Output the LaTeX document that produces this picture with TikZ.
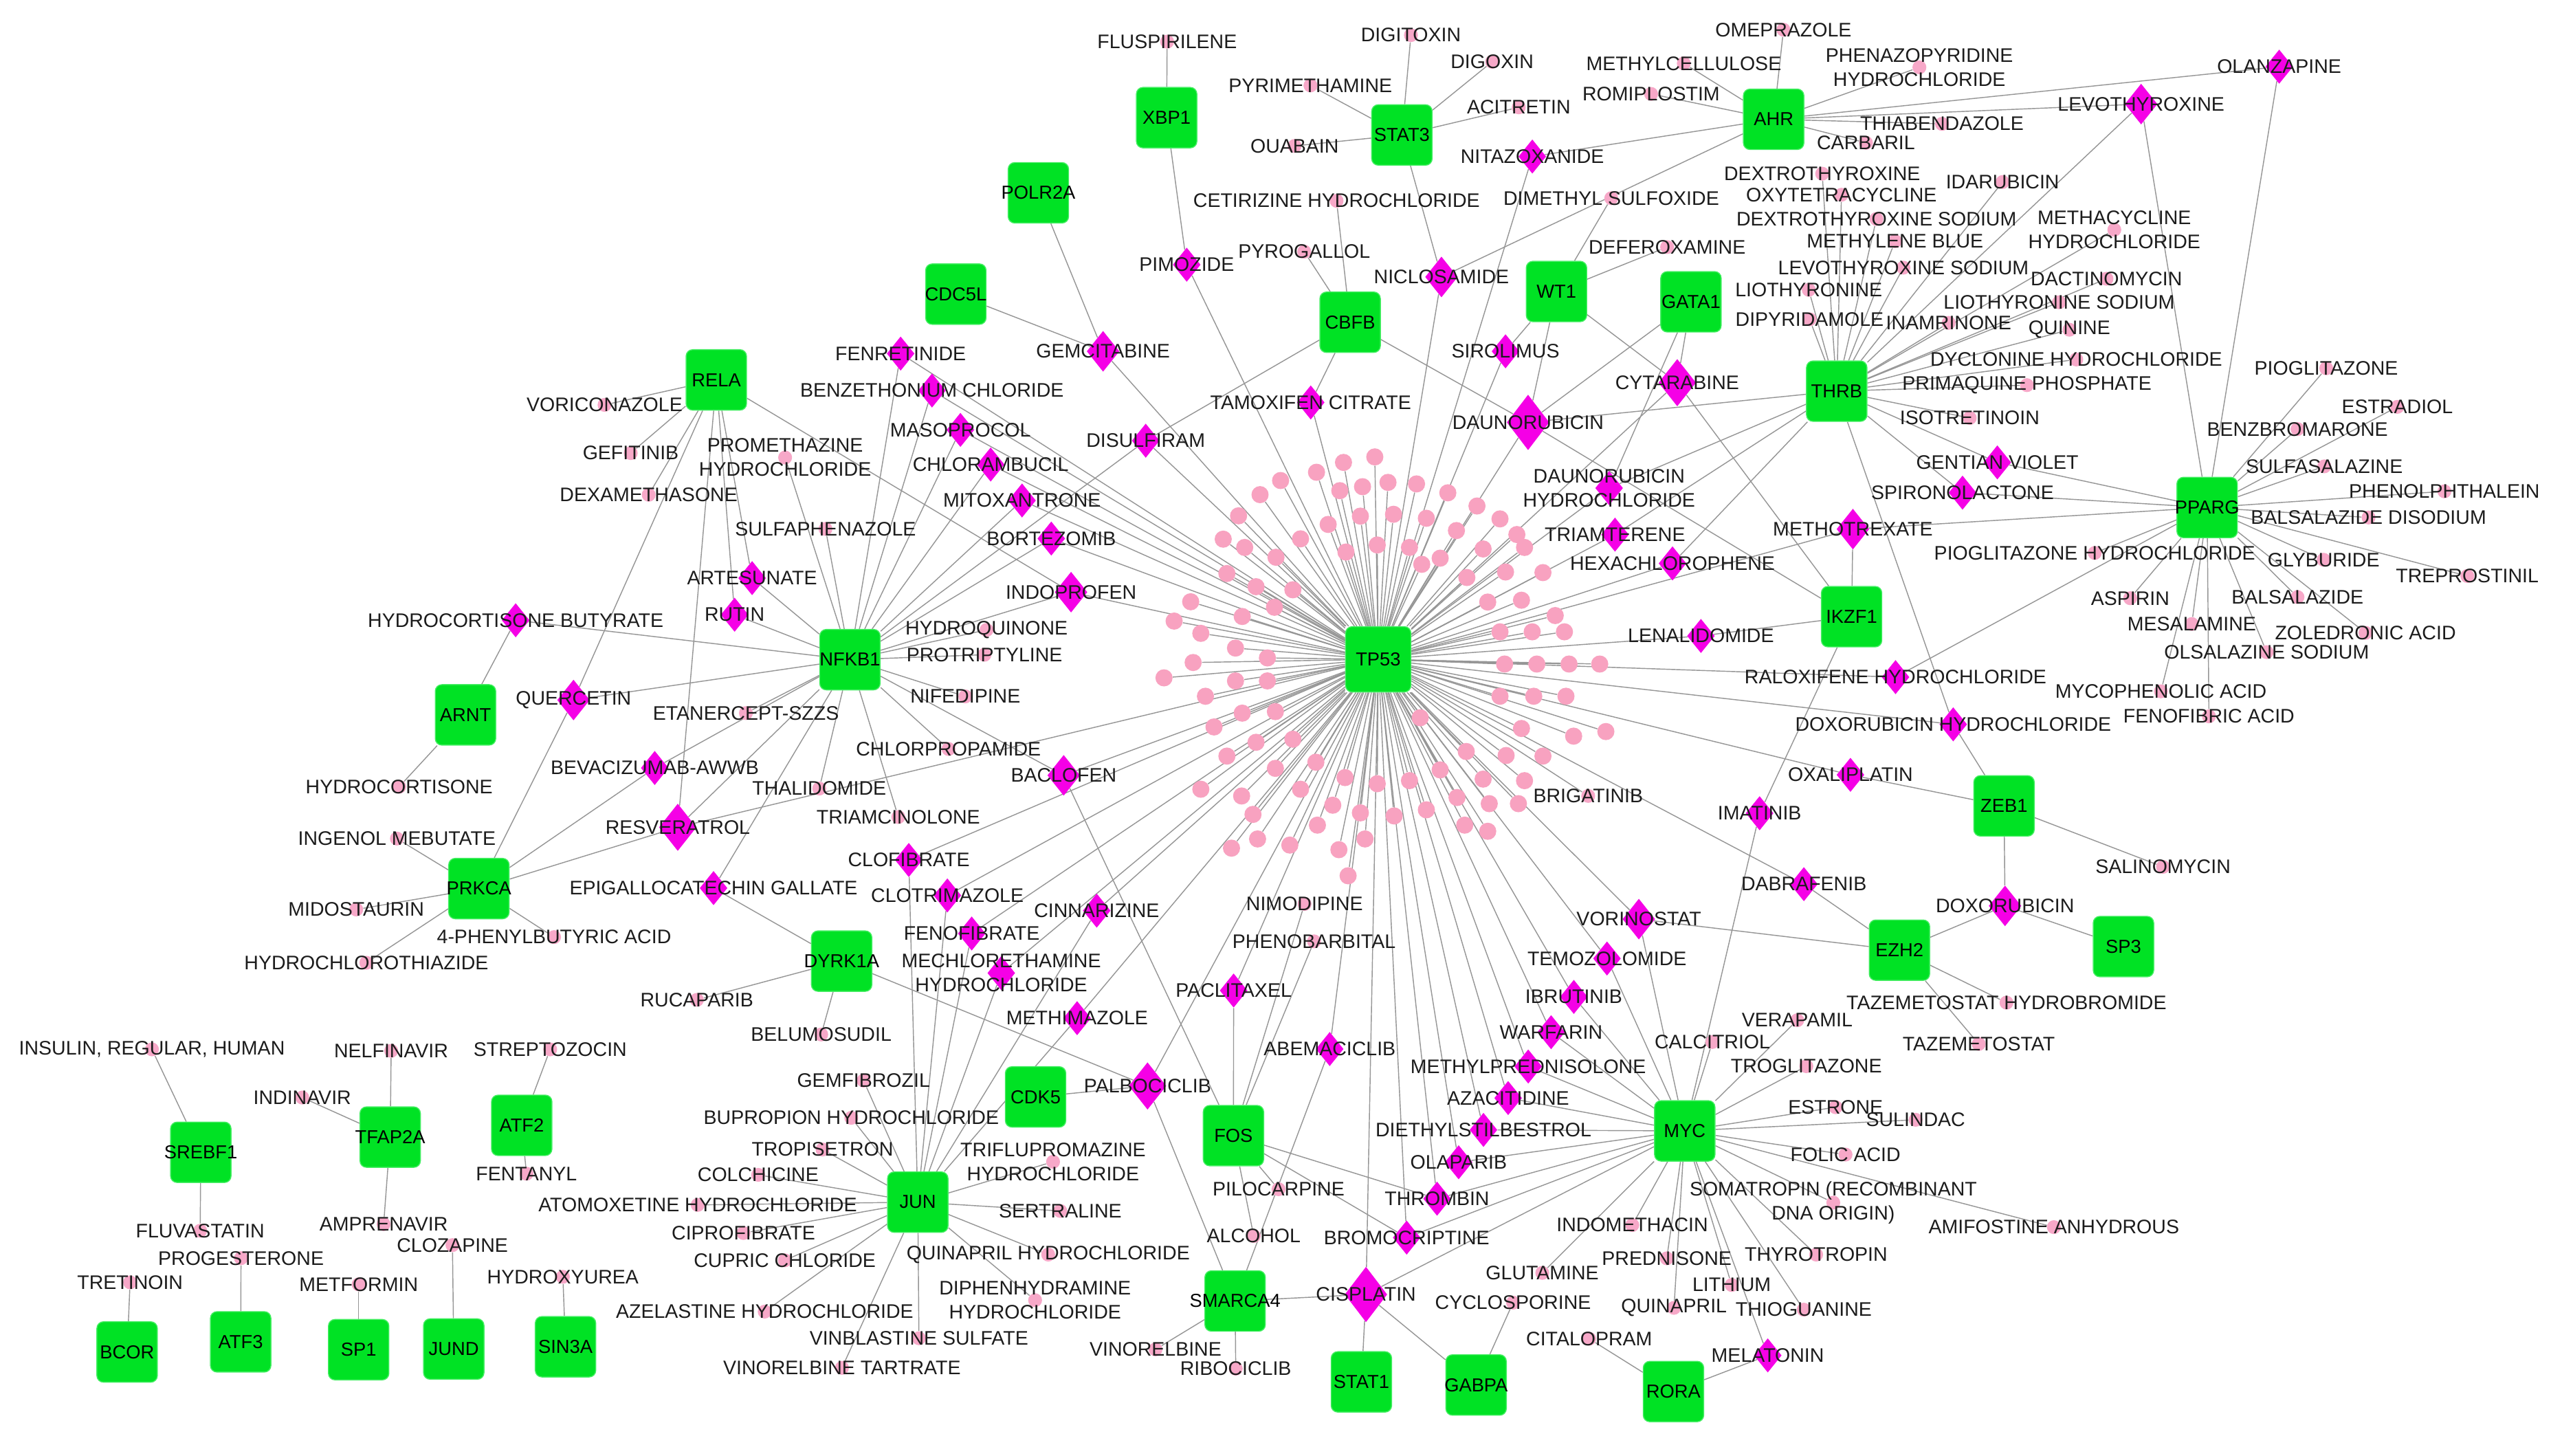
\documentclass[tikz,border=0pt]{standalone}
\usepackage{fontspec}
\setmainfont{Liberation Sans}
\usetikzlibrary{shapes.geometric}
\pgfdeclarelayer{bg}\pgfdeclarelayer{fg}\pgfsetlayers{bg,main,fg}
\definecolor{gfill}{RGB}{0,226,36}
\definecolor{gdraw}{RGB}{70,238,100}
\definecolor{dmag}{RGB}{245,0,230}
\definecolor{cpink}{RGB}{248,162,192}
\definecolor{mpink}{RGB}{247,168,200}
\definecolor{edgec}{RGB}{150,150,150}
\definecolor{txt}{RGB}{28,28,28}
\tikzset{
 gene/.style={draw=gdraw, line width=0.6pt, fill=gfill, rounded corners=4pt, minimum width=37pt, minimum height=37pt, inner sep=0pt},
 genelab/.style={font=\fontsize{11.5}{12}\selectfont, text=black, inner sep=0pt},
 tpc/.style={circle, fill=cpink, minimum size=10.5pt, inner sep=0pt},
 mk/.style={circle, fill=mpink, minimum size=8.5pt, inner sep=0pt},
 dias/.style={diamond, fill=dmag, minimum width=17pt, minimum height=21pt, inner sep=0pt},
 diam/.style={diamond, fill=dmag, minimum width=20pt, minimum height=25pt, inner sep=0pt},
 diaml/.style={diamond, fill=dmag, minimum width=23pt, minimum height=29pt, inner sep=0pt},
 dial/.style={diamond, fill=dmag, minimum width=26pt, minimum height=34pt, inner sep=0pt},
 lab/.style={font=\fontsize{12}{14.8}\selectfont, text=txt, align=center, inner sep=0pt},
 edge/.style={draw=edgec, line width=0.6pt},
}
\newcommand{\gnode}[3]{\node[gene] (#1) at (#2) {};\begin{pgfonlayer}{fg}\node[genelab] at (#1) {#3};\end{pgfonlayer}}
\newcommand{\mnode}[3]{\node[mk] (#1) at (#2) {};\begin{pgfonlayer}{fg}\node[lab] at (#1) {#3};\end{pgfonlayer}}
\newcommand{\dnode}[4]{\node[#1] (#2) at (#3) {};\begin{pgfonlayer}{fg}\node[lab] at (#2) {#4};\end{pgfonlayer}}
\begin{document}
\begin{tikzpicture}[x=1pt,y=-1pt]
\useasboundingbox (0,0) rectangle (1568,891);

% ---- TP53 satellite circles
\foreach \zx/\zy [count=\i] in {672/145,570/163,482/195,365/222,298/268,228/337,178/413,248/440,190/525,72/617,18/680,105/720,218/768,80/815,120/925,218/875,322/800,322/875,240/980,348/975,148/1025,285/1075,405/1065,190/1120,348/1160,480/1140,105/1228,238/1250,430/1228,275/1310,575/1190,680/1210,290/1390,395/1410,205/1420,535/1280,625/1305,485/1345,555/1425,640/1390,585/1510,735/1315,785/1200,840/1295,820/995,885/1165,970/1105,940/1255,1025/1195,1045/1275,965/1345,1040/1365,1100/1118,1160/1200,1140/1275,1220/1120,1320/1055,1425/1040,1150/1030,1080/925,1190/925,1295/925,1095/820,1200/820,1305/820,1405/820,1080/715,1185/715,1290/715,1260/662,1040/618,1150/612,972/538,1098/520,1220/522,1025/445,1160/440,1135/398,938/385,885/475,825/495,785/440,680/432,578/455,430/412,350/472,520/365,625/338,733/332,840/345,1005/305,1080/347,910/262,808/233,715/228,632/242,558/255,405/578,345/635,285/568,240/665,-15/865}
  {\node[tpc] (c\i) at ({715.2+\zx/5.325},{252.4+\zy/5.325}) {};}

% ---- single-target drugs
\mnode{fluspi}{714.3,25.5}{FLUSPIRILENE}
\mnode{digitox}{863.5,21.5}{DIGITOXIN}
\mnode{digox}{913.2,37.8}{DIGOXIN}
\mnode{pyrim}{802,52.3}{PYRIMETHAMINE}
\mnode{acitr}{929.5,65.7}{ACITRETIN}
\mnode{ouab}{792.3,89.3}{OUABAIN}
\mnode{cetir}{818,122.9}{CETIRIZINE HYDROCHLORIDE}
\mnode{dmso}{986.1,121.3}{DIMETHYL SULFOXIDE}
\mnode{pyrog}{798.2,154}{PYROGALLOL}
\mnode{defer}{1020.3,151.2}{DEFEROXAMINE}
\mnode{methylc}{1030.5,38.8}{METHYLCELLULOSE}
\mnode{romip}{1010.5,57.5}{ROMIPLOSTIM}
\mnode{omep}{1091.5,18.2}{OMEPRAZOLE}
\mnode{phenaz}{1174.7,41.2}{PHENAZOPYRIDINE\\HYDROCHLORIDE}
\mnode{thiab}{1188.5,75.8}{THIABENDAZOLE}
\mnode{carb}{1142,87.4}{CARBARIL}
\mnode{dextro}{1115.2,106.3}{DEXTROTHYROXINE}
\mnode{oxyt}{1127,119.2}{OXYTETRACYCLINE}
\mnode{idaru}{1225.6,111.4}{IDARUBICIN}
\mnode{dextros}{1148.4,134}{DEXTROTHYROXINE SODIUM}
\mnode{mblue}{1159.8,147.6}{METHYLENE BLUE}
\mnode{methac}{1294,140.6}{METHACYCLINE\\HYDROCHLORIDE}
\mnode{levos}{1164.9,163.8}{LEVOTHYROXINE SODIUM}
\mnode{dactino}{1289.2,170.6}{DACTINOMYCIN}
\mnode{lio}{1107,177.4}{LIOTHYRONINE}
\mnode{lios}{1260.2,185}{LIOTHYRONINE SODIUM}
\mnode{dipyr}{1107.5,195.4}{DIPYRIDAMOLE}
\mnode{inam}{1192.6,197.6}{INAMRINONE}
\mnode{quin}{1266.5,201.8}{QUININE}
\mnode{dyclo}{1270.7,220}{DYCLONINE HYDROCHLORIDE}
\mnode{prima}{1240.5,235.7}{PRIMAQUINE PHOSPHATE}
\mnode{isotr}{1205.5,255.8}{ISOTRETINOIN}
\mnode{piog}{1423.7,225.4}{PIOGLITAZONE}
\mnode{estra}{1467.2,249}{ESTRADIOL}
\mnode{benzb}{1406.1,262.6}{BENZBROMARONE}
\mnode{sulfas}{1422.5,285.4}{SULFASALAZINE}
\mnode{phenol}{1496,300.7}{PHENOLPHTHALEIN}
\mnode{balsd}{1449.6,316.7}{BALSALAZIDE DISODIUM}
\mnode{piohcl}{1282,338.4}{PIOGLITAZONE HYDROCHLORIDE}
\mnode{glyb}{1422.1,342.6}{GLYBURIDE}
\mnode{trepro}{1510,352.5}{TREPROSTINIL}
\mnode{aspir}{1303.7,366.1}{ASPIRIN}
\mnode{balsa}{1406.1,365.4}{BALSALAZIDE}
\mnode{mesal}{1341.4,381.9}{MESALAMINE}
\mnode{zoled}{1447.7,387.3}{ZOLEDRONIC ACID}
\mnode{olsal}{1387.2,399.1}{OLSALAZINE SODIUM}
\mnode{mycop}{1322.5,423.1}{MYCOPHENOLIC ACID}
\mnode{fenofa}{1351.9,438.4}{FENOFIBRIC ACID}
\mnode{salino}{1323.8,530.5}{SALINOMYCIN}
\mnode{tazhbr}{1228,613.6}{TAZEMETOSTAT HYDROBROMIDE}
\mnode{taz}{1211,638.9}{TAZEMETOSTAT}
\mnode{brig}{972,487.1}{BRIGATINIB}
\mnode{verap}{1099.9,624.4}{VERAPAMIL}
\mnode{calci}{1048,637.7}{CALCITRIOL}
\mnode{trogl}{1105.5,652.5}{TROGLITAZONE}
\mnode{estro}{1123.4,677.6}{ESTRONE}
\mnode{sulin}{1172.4,685.3}{SULINDAC}
\mnode{folic}{1129.5,706.6}{FOLIC ACID}
\mnode{somat}{1122,736}{SOMATROPIN (RECOMBINANT\\DNA ORIGIN)}
\mnode{amifo}{1257,751}{AMIFOSTINE ANHYDROUS}
\mnode{indom}{999,749.7}{INDOMETHACIN}
\mnode{thyro}{1111.5,767.8}{THYROTROPIN}
\mnode{predn}{1020.1,770.1}{PREDNISONE}
\mnode{gluta}{943.9,779}{GLUTAMINE}
\mnode{lith}{1059.8,786.4}{LITHIUM}
\mnode{quinap}{1024.5,800.4}{QUINAPRIL}
\mnode{thiog}{1103.9,801.5}{THIOGUANINE}
\mnode{cyclo}{926,797.2}{CYCLOSPORINE}
\mnode{cital}{972.6,819.3}{CITALOPRAM}
\mnode{nimod}{798.4,553.2}{NIMODIPINE}
\mnode{pheno}{804.2,576.1}{PHENOBARBITAL}
\mnode{piloc}{782.5,727.8}{PILOCARPINE}
\mnode{alcoh}{767.3,756.4}{ALCOHOL}
\mnode{vinor}{707.2,825.8}{VINORELBINE}
\mnode{riboc}{756.3,837.6}{RIBOCICLIB}
\mnode{gemfi}{528.5,661.3}{GEMFIBROZIL}
\mnode{bupro}{521,684.1}{BUPROPION HYDROCHLORIDE}
\mnode{tropi}{503.4,703.5}{TROPISETRON}
\mnode{colch}{464,719}{COLCHICINE}
\mnode{atomo}{427,737.4}{ATOMOXETINE HYDROCHLORIDE}
\mnode{cipro}{455,754.6}{CIPROFIBRATE}
\mnode{cupric}{480.3,771.3}{CUPRIC CHLORIDE}
\mnode{azel}{468,802.7}{AZELASTINE HYDROCHLORIDE}
\mnode{vinbl}{562.4,819}{VINBLASTINE SULFATE}
\mnode{vinort}{515.3,837.1}{VINORELBINE TARTRATE}
\mnode{triflu}{644.5,711}{TRIFLUPROMAZINE\\HYDROCHLORIDE}
\mnode{sertr}{648.9,741.1}{SERTRALINE}
\mnode{quinhcl}{641.5,767.8}{QUINAPRIL HYDROCHLORIDE}
\mnode{diphen}{633.5,795.7}{DIPHENHYDRAMINE\\HYDROCHLORIDE}
\mnode{belum}{502.6,633.1}{BELUMOSUDIL}
\mnode{rucap}{426.5,611.9}{RUCAPARIB}
\mnode{hydroc}{244.3,481.5}{HYDROCORTISONE}
\mnode{ingen}{242.9,513.2}{INGENOL MEBUTATE}
\mnode{midos}{218,556.6}{MIDOSTAURIN}
\mnode{pba}{339.1,573.5}{4-PHENYLBUTYRIC ACID}
\mnode{hctz}{224.2,589.2}{HYDROCHLOROTHIAZIDE}
\mnode{etan}{456.5,436.4}{ETANERCEPT-SZZS}
\mnode{thal}{501.4,482.6}{THALIDOMIDE}
\mnode{triamc}{549.8,500}{TRIAMCINOLONE}
\mnode{chlorp}{580.5,458.4}{CHLORPROPAMIDE}
\mnode{nifed}{590.8,426.2}{NIFEDIPINE}
\mnode{hquin}{603.8,385.5}{HYDROQUINONE}
\mnode{protr}{602.5,400.7}{PROTRIPTYLINE}
\mnode{sulfap}{505.2,323.7}{SULFAPHENAZOLE}
\mnode{prometh}{480.5,280}{PROMETHAZINE\\HYDROCHLORIDE}
\mnode{voric}{370,247.8}{VORICONAZOLE}
\mnode{gefit}{386,277.3}{GEFITINIB}
\mnode{dexa}{397,302.8}{DEXAMETHASONE}
\mnode{insul}{93,642.2}{INSULIN, REGULAR, HUMAN}
\mnode{nelfi}{239.4,643.1}{NELFINAVIR}
\mnode{strep}{336.7,642.2}{STREPTOZOCIN}
\mnode{indin}{185,671.7}{INDINAVIR}
\mnode{fenta}{322.2,718.3}{FENTANYL}
\mnode{fluva}{122.5,753.2}{FLUVASTATIN}
\mnode{ampre}{234.8,749.2}{AMPRENAVIR}
\mnode{proge}{147.5,770}{PROGESTERONE}
\mnode{cloza}{276.9,762}{CLOZAPINE}
\mnode{treti}{79.6,784.8}{TRETINOIN}
\mnode{metf}{219.5,786}{METFORMIN}
\mnode{hurea}{344.5,781.4}{HYDROXYUREA}

% ---- multi-target drugs
\dnode{dias}{nitaz}{937.8,95.8}{NITAZOXANIDE}
\dnode{dias}{pimoz}{726.3,162}{PIMOZIDE}
\dnode{diam}{niclo}{882.2,169.5}{NICLOSAMIDE}
\dnode{diam}{gemci}{675.1,215}{GEMCITABINE}
\dnode{dias}{sirol}{921.4,215}{SIROLIMUS}
\dnode{dias}{tamox}{802.2,246.3}{TAMOXIFEN CITRATE}
\dnode{dias}{disul}{701.2,269.7}{DISULFIRAM}
\dnode{dial}{dauno}{935.2,258.5}{DAUNORUBICIN}
\dnode{diaml}{cytar}{1026.5,234.2}{CYTARABINE}
\dnode{dias}{daunohcl}{984.8,298.7}{DAUNORUBICIN\\HYDROCHLORIDE}
\dnode{dias}{triam}{988.4,327.2}{TRIAMTERENE}
\dnode{dias}{hexa}{1023.6,344.8}{HEXACHLOROPHENE}
\dnode{diam}{mtx}{1134,323.8}{METHOTREXATE}
\dnode{dias}{lenal}{1041,389.2}{LENALIDOMIDE}
\dnode{dias}{ralox}{1160.1,414.4}{RALOXIFENE HYDROCHLORIDE}
\dnode{dias}{doxohcl}{1195.4,443.3}{DOXORUBICIN HYDROCHLORIDE}
\dnode{dias}{oxali}{1132.5,474.2}{OXALIPLATIN}
\dnode{dias}{imat}{1076.9,497.7}{IMATINIB}
\dnode{dias}{dabra}{1104,541.1}{DABRAFENIB}
\dnode{diam}{vorin}{1003,562.5}{VORINOSTAT}
\dnode{dias}{temoz}{983.5,586.6}{TEMOZOLOMIDE}
\dnode{dias}{ibrut}{963.2,610.1}{IBRUTINIB}
\dnode{dias}{warf}{949.3,631.7}{WARFARIN}
\dnode{dias}{mpred}{935.3,652.7}{METHYLPREDNISOLONE}
\dnode{dias}{azac}{923,672}{AZACITIDINE}
\dnode{dias}{dest}{907.9,691.5}{DIETHYLSTILBESTROL}
\dnode{dias}{olap}{892.7,711.3}{OLAPARIB}
\dnode{dias}{thromb}{879.5,733.6}{THROMBIN}
\dnode{dias}{bromo}{860.9,757.4}{BROMOCRIPTINE}
\dnode{dial}{cispl}{836,792.2}{CISPLATIN}
\dnode{dias}{abema}{813.8,642}{ABEMACICLIB}
\dnode{dias}{pacli}{755,606.2}{PACLITAXEL}
\dnode{diaml}{palbo}{702.3,664.6}{PALBOCICLIB}
\dnode{dias}{methim}{659.2,623.1}{METHIMAZOLE}
\dnode{dias}{cinna}{671.2,557.3}{CINNARIZINE}
\dnode{dias}{fenof}{594.7,571.3}{FENOFIBRATE}
\dnode{dias}{clotr}{579.8,548}{CLOTRIMAZOLE}
\dnode{dias}{clofi}{556.2,526.3}{CLOFIBRATE}
\dnode{dias}{mechl}{612.8,595.5}{MECHLORETHAMINE\\HYDROCHLORIDE}
\dnode{diam}{baclo}{651,474.5}{BACLOFEN}
\dnode{diam}{indop}{655.5,362.4}{INDOPROFEN}
\dnode{dias}{bortez}{643.4,329.6}{BORTEZOMIB}
\dnode{dias}{mitox}{625.5,306.3}{MITOXANTRONE}
\dnode{dias}{chlora}{606.3,284.3}{CHLORAMBUCIL}
\dnode{dias}{masop}{587.8,263.1}{MASOPROCOL}
\dnode{dias}{benzet}{570.4,239}{BENZETHONIUM CHLORIDE}
\dnode{dias}{fenret}{551.2,216.4}{FENRETINIDE}
\dnode{dias}{artes}{460.3,353.8}{ARTESUNATE}
\dnode{dias}{rutin}{449.6,376.2}{RUTIN}
\dnode{diam}{querc}{351,428.4}{QUERCETIN}
\dnode{dias}{hcb}{315.6,379.6}{HYDROCORTISONE BUTYRATE}
\dnode{dias}{bevac}{400.7,470}{BEVACIZUMAB-AWWB}
\dnode{diaml}{resv}{414.8,506.3}{RESVERATROL}
\dnode{dias}{egcg}{436.7,543.5}{EPIGALLOCATECHIN GALLATE}
\dnode{dias}{olanz}{1394.9,40.8}{OLANZAPINE}
\dnode{diam}{levot}{1310.4,63.7}{LEVOTHYROXINE}
\dnode{dias}{gentian}{1222.4,283}{GENTIAN VIOLET}
\dnode{dias}{spiro}{1201.1,301.5}{SPIRONOLACTONE}
\dnode{diam}{doxo}{1227.1,554.4}{DOXORUBICIN}
\dnode{dias}{melat}{1081.9,829.5}{MELATONIN}

% ---- genes
\node[gene, minimum width=40pt, minimum height=40pt] (tp53) at (843.5,403.5) {};
\begin{pgfonlayer}{fg}\node[genelab] at (tp53) {TP53};\end{pgfonlayer}
\gnode{xbp1}{714,72}{XBP1}
\gnode{stat3}{858,82.6}{STAT3}
\gnode{ahr}{1085.5,73}{AHR}
\gnode{polr2a}{635.5,118}{POLR2A}
\gnode{cdc5l}{585,180}{CDC5L}
\gnode{cbfb}{826.3,197.2}{CBFB}
\gnode{wt1}{952.6,178.4}{WT1}
\gnode{gata1}{1034.9,184.7}{GATA1}
\gnode{thrb}{1124.1,239.4}{THRB}
\gnode{ikzf1}{1133.2,377.4}{IKZF1}
\gnode{pparg}{1350.8,310.6}{PPARG}
\gnode{zeb1}{1226.5,493.2}{ZEB1}
\gnode{ezh2}{1162.5,581.5}{EZH2}
\gnode{sp3}{1299.6,579.3}{SP3}
\gnode{myc}{1031.1,692.1}{MYC}
\gnode{rela}{438.4,232.5}{RELA}
\gnode{nfkb1}{520.2,403.7}{NFKB1}
\gnode{arnt}{284.9,437.5}{ARNT}
\gnode{prkca}{293.1,543.8}{PRKCA}
\gnode{dyrk1a}{515.1,588.2}{DYRK1A}
\gnode{cdk5}{633.8,671.3}{CDK5}
\gnode{fos}{754.9,695}{FOS}
\gnode{jun}{561.7,735.7}{JUN}
\gnode{smarca4}{755.9,796.2}{SMARCA4}
\gnode{stat1}{833.2,845.7}{STAT1}
\gnode{gabpa}{903.4,847.6}{GABPA}
\gnode{rora}{1024.2,851.6}{RORA}
\gnode{srebf1}{122.9,705.2}{SREBF1}
\gnode{tfap2a}{238.8,695.9}{TFAP2A}
\gnode{atf2}{319.3,688.7}{ATF2}
\gnode{bcor}{77.8,827.4}{BCOR}
\gnode{atf3}{147.3,821.2}{ATF3}
\gnode{sp1}{219.5,826}{SP1}
\gnode{jund}{277.7,825.6}{JUND}
\gnode{sin3a}{346.1,824.2}{SIN3A}

% ---- edges (background layer, on top of a white canvas)
\begin{pgfonlayer}{bg}
\fill[white] (0,0) rectangle (1568,891);
\foreach \i in {1,...,102} \draw[edge] (tp53) -- (c\i);
\foreach \d in {nitaz,pimoz,niclo,gemci,sirol,tamox,disul,dauno,cytar,daunohcl,triam,hexa,mtx,lenal,ralox,doxohcl,oxali,dabra,brig,vorin,temoz,ibrut,warf,mpred,azac,dest,olap,thromb,bromo,cispl,abema,pacli,palbo,methim,cinna,fenof,clotr,clofi,mechl,baclo,indop,bortez,mitox,chlora,masop,benzet,fenret,resv}
  \draw[edge] (tp53) -- (\d);
\foreach \d in {fluspi,pimoz} \draw[edge] (xbp1) -- (\d);
\foreach \d in {digitox,digox,pyrim,acitr,ouab,niclo} \draw[edge] (stat3) -- (\d);
\foreach \d in {methylc,romip,omep,phenaz,thiab,carb,olanz,levot,nitaz,niclo} \draw[edge] (ahr) -- (\d);
\draw[edge] (polr2a) -- (gemci);
\draw[edge] (cdc5l) -- (gemci);
\foreach \d in {cetir,pyrog,tamox,disul,dauno} \draw[edge] (cbfb) -- (\d);
\foreach \d in {dmso,defer,sirol,dauno,cytar} \draw[edge] (wt1) -- (\d);
\foreach \d in {cytar,dauno,daunohcl} \draw[edge] (gata1) -- (\d);
\foreach \d in {dextro,oxyt,idaru,dextros,mblue,methac,levos,dactino,lio,lios,dipyr,inam,quin,dyclo,prima,isotr,gentian,spiro,levot,dauno,daunohcl,triam,hexa,doxohcl} \draw[edge] (thrb) -- (\d);
\foreach \d in {dauno,cytar,mtx,lenal,imat} \draw[edge] (ikzf1) -- (\d);
\foreach \d in {piog,estra,benzb,sulfas,phenol,balsd,piohcl,glyb,trepro,aspir,balsa,mesal,zoled,olsal,mycop,fenofa,olanz,levot,gentian,spiro,mtx,ralox} \draw[edge] (pparg) -- (\d);
\foreach \d in {doxohcl,oxali,salino,doxo} \draw[edge] (zeb1) -- (\d);
\foreach \d in {dabra,vorin,doxo,tazhbr,taz} \draw[edge] (ezh2) -- (\d);
\draw[edge] (sp3) -- (doxo);
\foreach \d in {imat,vorin,temoz,ibrut,warf,mpred,azac,dest,olap,thromb,bromo,cispl,melat,verap,calci,trogl,estro,sulin,folic,somat,amifo,thyro,indom,predn,gluta,lith,quinap,thiog} \draw[edge] (myc) -- (\d);
\foreach \d in {cital,melat} \draw[edge] (rora) -- (\d);
\foreach \d in {cyclo,cispl} \draw[edge] (gabpa) -- (\d);
\draw[edge] (stat1) -- (cispl);
\foreach \d in {cispl,palbo,abema,vinor,riboc} \draw[edge] (smarca4) -- (\d);
\foreach \d in {pacli,nimod,pheno,piloc,alcoh,baclo,thromb,bromo} \draw[edge] (fos) -- (\d);
\draw[edge] (cdk5) -- (palbo);
\foreach \d in {egcg,belum,rucap,palbo} \draw[edge] (dyrk1a) -- (\d);
\foreach \d in {clofi,clotr,fenof,mechl,cinna,methim,gemfi,bupro,tropi,colch,atomo,cipro,cupric,azel,vinbl,vinort,triflu,sertr,quinhcl,diphen} \draw[edge] (jun) -- (\d);
\foreach \d in {querc,bevac,resv,ingen,midos,pba,hctz} \draw[edge] (prkca) -- (\d);
\foreach \d in {hcb,hydroc} \draw[edge] (arnt) -- (\d);
\foreach \d in {voric,gefit,dexa,artes,rutin,querc,resv,indop} \draw[edge] (rela) -- (\d);
\foreach \d in {fenret,benzet,masop,chlora,mitox,bortez,indop,disul,hquin,protr,nifed,chlorp,baclo,triamc,thal,etan,bevac,resv,egcg,querc,hcb,rutin,artes,prometh,sulfap} \draw[edge] (nfkb1) -- (\d);
\foreach \d in {insul,fluva} \draw[edge] (srebf1) -- (\d);
\foreach \d in {nelfi,indin,ampre} \draw[edge] (tfap2a) -- (\d);
\foreach \d in {strep,fenta} \draw[edge] (atf2) -- (\d);
\draw[edge] (bcor) -- (treti);
\draw[edge] (atf3) -- (proge);
\draw[edge] (sp1) -- (metf);
\draw[edge] (jund) -- (cloza);
\draw[edge] (sin3a) -- (hurea);
\end{pgfonlayer}
\end{tikzpicture}
\end{document}
